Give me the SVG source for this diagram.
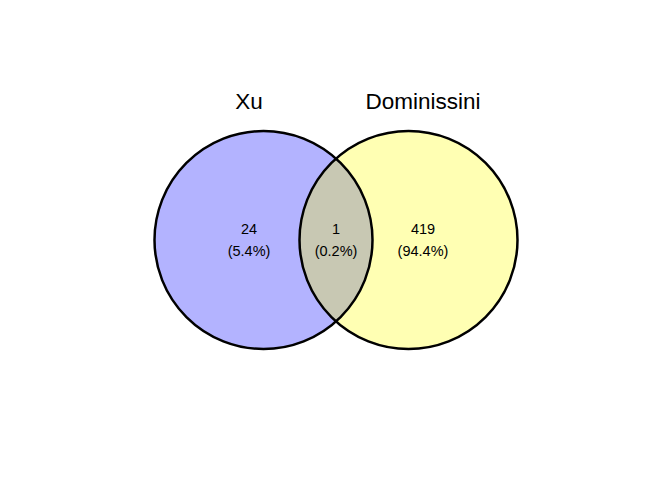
<svg xmlns="http://www.w3.org/2000/svg" width="672" height="480" viewBox="0 0 672 480">
<style>
text{font-family:"Liberation Sans",Arial,sans-serif;fill:#000;text-anchor:middle}
.t{font-size:22.5px}
.l{font-size:14.5px}
.o{fill:none;stroke:#000;stroke-width:2.5}
</style>
<defs>
<clipPath id="cl"><circle cx="263.5" cy="240" r="109"/></clipPath>
</defs>
<rect width="672" height="480" fill="#fff"/>
<g id="set-xu">
<circle cx="263.5" cy="240" r="109" fill="#b3b3ff"/>
</g>
<g id="set-dominissini">
<circle cx="408.5" cy="240" r="109" fill="#ffffb3"/>
</g>
<g id="overlap">
<circle cx="408.5" cy="240" r="109" fill="#c8c8b3" clip-path="url(#cl)"/>
</g>
<g id="outlines">
<circle class="o" cx="263.5" cy="240" r="109"/>
<circle class="o" cx="408.5" cy="240" r="109"/>
</g>
<g id="labels">
<text class="t" x="249" y="109">Xu</text>
<text class="t" x="423" y="109">Dominissini</text>
<text class="l" x="249" y="234">24</text>
<text class="l" x="249" y="256">(5.4%)</text>
<text class="l" x="336" y="234">1</text>
<text class="l" x="336" y="256">(0.2%)</text>
<text class="l" x="423" y="234">419</text>
<text class="l" x="423" y="256">(94.4%)</text>
</g>
</svg>
